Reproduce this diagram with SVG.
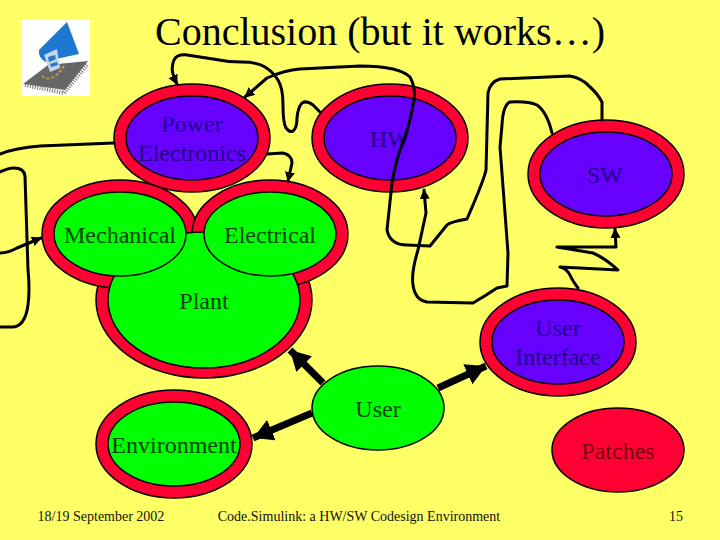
<svg xmlns="http://www.w3.org/2000/svg" width="720" height="540" viewBox="0 0 720 540">
<style>
text{font-family:"Liberation Serif","Times New Roman",serif;text-anchor:middle;fill:#000}
.lab{font-size:24px}
.onb{fill:#220088}
.ong{fill:#004400}
.onr{fill:#770011}
.foot{font-size:14px;fill:#111}
.e{stroke:#000;stroke-width:1.5}
.r{fill:#FF0033}
.b{fill:#6600FF}
.g{fill:#00FF00}
.w{fill:none;stroke:#000;stroke-width:3;stroke-linejoin:round;stroke-linecap:round}
.t{fill:none;stroke:#000;stroke-width:7}
</style>
<defs>
<marker id="sm" markerUnits="userSpaceOnUse" markerWidth="12" markerHeight="12" refX="9" refY="5" orient="auto"><path d="M0 0L10 5L0 10Z" fill="#000"/></marker>
<marker id="lg" markerUnits="userSpaceOnUse" markerWidth="22" markerHeight="24" refX="20" refY="11" orient="auto"><path d="M0 0L20 11L0 22Z" fill="#000"/></marker>
</defs>
<rect width="720" height="540" fill="#FFFF66"/>
<g id="logo">
<rect x="22" y="20" width="68" height="76" fill="#fff"/>
<path d="M23 84L48 65L88 61L65 90Z" fill="#666"/>
<path d="M25 85L64 93L88 64" fill="none" stroke="#777" stroke-width="4" stroke-dasharray="1 1.5"/>
<path d="M39 50L67 22L79 54L56 59L46 62Q38 58 39 50Z" fill="#1E78D2"/>
<path d="M44 55L57 49L60 68L50 72Z" fill="#C8D4E4"/>
<path d="M48 57L55 55L56 59L49 62ZM50 64L57 62L58 65L51 67Z" fill="#1E78D2"/>
<path d="M42 76Q52 84 64 66" fill="none" stroke="#C8B040" stroke-width="1.5" stroke-dasharray="3 2"/>
</g>
<text x="380" y="45" font-size="40">Conclusion (but it works…)</text>
<g id="power-electronics">
<ellipse class="e r" cx="192" cy="138" rx="78" ry="54"/>
<ellipse class="e b" cx="192" cy="138" rx="66" ry="42"/>
<text class="lab onb" x="192" y="132">Power</text>
<text class="lab onb" x="192" y="161">Electronics</text>
</g>
<g id="hw">
<ellipse class="e r" cx="390" cy="138" rx="78" ry="54"/>
<ellipse class="e b" cx="390" cy="138" rx="66" ry="42"/>
<text class="lab onb" x="390" y="147">HW</text>
</g>
<g id="sw">
<ellipse class="e r" cx="606" cy="174" rx="78" ry="54"/>
<ellipse class="e b" cx="606" cy="174" rx="66" ry="42"/>
<text class="lab onb" x="605" y="183">SW</text>
</g>
<g id="plant">
<ellipse class="e r" cx="204" cy="300" rx="108" ry="78"/>
<ellipse class="e r" cx="120" cy="234" rx="78" ry="54"/>
<ellipse class="e r" cx="270" cy="234" rx="78" ry="54"/>
<ellipse class="e g" cx="204" cy="300" rx="96" ry="68"/>
<text class="lab ong" x="204" y="309">Plant</text>
</g>
<g id="mechanical">
<ellipse class="e g" cx="120" cy="234" rx="66" ry="42"/>
<text class="lab ong" x="120" y="243">Mechanical</text>
</g>
<g id="electrical">
<ellipse class="e g" cx="270" cy="234" rx="66" ry="42"/>
<text class="lab ong" x="270" y="243">Electrical</text>
</g>
<g id="user-interface">
<ellipse class="e r" cx="558" cy="342" rx="78" ry="54"/>
<ellipse class="e b" cx="558" cy="342" rx="66" ry="42"/>
<text class="lab onb" x="558" y="336">User</text>
<text class="lab onb" x="558" y="365">Interface</text>
</g>
<g id="user">
<ellipse class="e g" cx="378" cy="408" rx="66" ry="42"/>
<text class="lab ong" x="378" y="417">User</text>
</g>
<g id="environment">
<ellipse class="e r" cx="174" cy="444" rx="78" ry="54"/>
<ellipse class="e g" cx="174" cy="444" rx="66" ry="42"/>
<text class="lab ong" x="174" y="453">Environment</text>
</g>
<g id="patches">
<ellipse class="e r" cx="618" cy="450" rx="66" ry="42"/>
<text class="lab onr" x="618" y="459">Patches</text>
</g>
<g id="connectors">
<path class="w" d="M320 112L313 105Q307 100 302 103Q298 107 297 118Q297 128 293 131Q290 133 286 128Q283 123 283 105Q283 88 278 80Q273 72 265 67Q257 62 242 62Q227 62 213 59Q200 57 187 55Q177 54 174 60Q171 67 173 74Q175 80 177 84" marker-end="url(#sm)"/>
<path class="w" d="M602 120L602 102Q597 93 590 87Q582 78 570 76L500 79Q490 82 488 93L486 170Q484 180 467 219Q450 222 447 225L430 246L407 245Q390 245 387 230L392 183Q395 165 400 150Q410 125 413 105Q417 90 410 77Q405 72 393 69Q380 66 360 66L300 69Q285 70 267 78L245 97" marker-end="url(#sm)"/>
<path class="w" d="M552 133Q547 112 537 105Q528 101 510 102Q503 105 502 125L500 147L508 253L507 286L497 288Q485 296 473 303L427 302Q415 300 413 285Q411 273 418 250L426 213L424 190" marker-end="url(#sm)"/>
<path class="w" d="M578 288Q572 280 570 275Q566 268 560 267L618 270Q605 258 593 253L557 247L616 247L615 229" marker-end="url(#sm)"/>
<path class="w" d="M267 154L283 153Q292 155 292 163L288 181" marker-end="url(#sm)"/>
<path class="w" d="M114 143L40 146Q15 148 0 154"/>
<path class="w" d="M0 172Q8 168 14 168Q24 168 25 176L28 270Q30 290 28 305Q25 327 12 327L0 327"/>
<path class="w" d="M0 253Q8 253 17 248L41 238" marker-end="url(#sm)"/>
<path class="t" d="M323 383L290 350" marker-end="url(#lg)"/>
<path class="t" d="M312 413L253 438" marker-end="url(#lg)"/>
<path class="t" d="M438 388L486 366" marker-end="url(#lg)"/>
</g>
<text class="foot" x="101" y="521">18/19 September 2002</text>
<text class="foot" x="359" y="521">Code.Simulink: a HW/SW Codesign Environment</text>
<text class="foot" x="676" y="521">15</text>
</svg>
